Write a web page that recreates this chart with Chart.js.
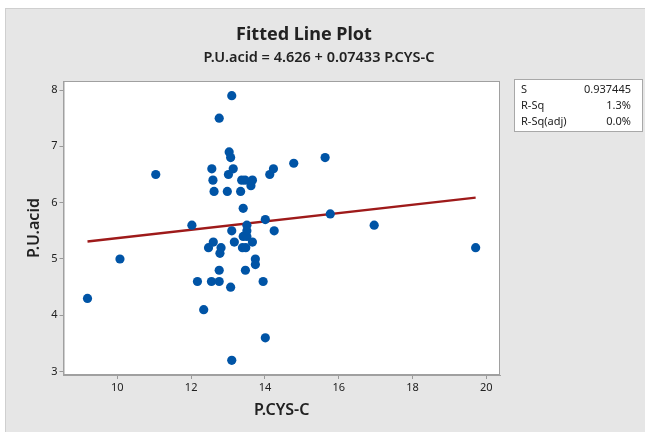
<!DOCTYPE html>
<html><head><meta charset="utf-8">
<title>Fitted Line Plot</title>
<script src="https://cdn.jsdelivr.net/npm/chart.js"></script>
<style>
  html, body { margin: 0; padding: 0; background: #fff; }
  #wrap { width: 645px; height: 432px; }
</style></head>
<body>
<div id="wrap"><canvas id="grafico" width="645" height="432"></canvas></div>
<script>
// --- DADOS ---
const pcysc = [9.19, 10.07, 11.04, 12.02, 12.17, 12.34, 12.47, 12.55, 12.56, 12.59,
  12.60, 12.62, 12.76, 12.76, 12.76, 12.78, 12.81, 12.98, 13.01, 13.03,
  13.07, 13.07, 13.10, 13.10, 13.10, 13.14, 13.17, 13.34, 13.37, 13.46,
  13.41, 13.41, 13.51, 13.51, 13.51, 13.39, 13.48, 13.47, 13.62, 13.66,
  13.66, 13.74, 13.74, 13.95, 14.01, 14.01, 14.13, 14.23, 14.25, 14.78,
  15.63, 15.77, 16.96, 19.71];
const puacid = [4.3, 5.0, 6.5, 5.6, 4.6, 4.1, 5.2, 4.6, 6.6, 6.4,
  5.3, 6.2, 4.6, 4.8, 7.5, 5.1, 5.2, 6.2, 6.5, 6.9,
  6.8, 4.5, 5.5, 7.9, 3.2, 6.6, 5.3, 6.2, 6.4, 6.4,
  5.9, 5.4, 5.4, 5.5, 5.6, 5.2, 5.2, 4.8, 6.3, 6.4,
  5.3, 5.0, 4.9, 4.6, 5.7, 3.6, 6.5, 6.6, 5.5, 6.7,
  6.8, 5.8, 5.6, 5.2];
// linha ajustada (extremos)
const fitX = [9.19, 19.71];
const fitY = [5.31, 6.09];
const xTicks = [10, 12, 14, 16, 18, 20];
const yTicks = [3, 4, 5, 6, 7, 8];
const stats = [['S', '0.937445'], ['R-Sq', '1.3%'], ['R-Sq(adj)', '0.0%']];

const FONT = "'Noto Sans', 'Open Sans', sans-serif";

// fundo, títulos e caixa de estatísticas
const moldura = {
  id: 'moldura',
  beforeDraw(chart) {
    const ctx = chart.ctx, a = chart.chartArea;
    ctx.save();
    ctx.fillStyle = '#fff';
    ctx.fillRect(0, 0, 645, 432);
    ctx.fillStyle = '#e6e6e6';
    ctx.fillRect(5, 8, 640, 424);
    ctx.strokeStyle = '#cfcfcf';
    ctx.lineWidth = 1;
    ctx.strokeRect(5.5, 8.5, 640, 424);
    ctx.fillStyle = '#fff';
    ctx.fillRect(a.left, a.top, a.right - a.left, a.bottom - a.top);

    ctx.fillStyle = '#222';
    ctx.textAlign = 'center';
    ctx.textBaseline = 'middle';
    ctx.font = 'bold 18px ' + FONT;
    ctx.fillText('Fitted Line Plot', 304, 35);
    ctx.font = '600 14.5px ' + FONT;
    ctx.fillText('P.U.acid = 4.626 + 0.07433 P.CYS-C', 319, 58);

    // caixa S / R-Sq
    ctx.fillStyle = '#fff';
    ctx.fillRect(514, 79, 128, 52);
    ctx.strokeStyle = '#a8a8a8';
    ctx.strokeRect(514.5, 79.5, 128, 52);
    ctx.fillStyle = '#222';
    ctx.font = '11px ' + FONT;
    stats.forEach((s, i) => {
      const y = 90 + i * 16;
      ctx.textAlign = 'left';
      ctx.fillText(s[0], 521, y);
      ctx.textAlign = 'right';
      ctx.fillText(s[1], 631, y);
    });
    ctx.restore();
  },
  afterDatasetsDraw(chart) {
    const ctx = chart.ctx, a = chart.chartArea;
    ctx.save();
    ctx.strokeStyle = '#a0a0a0';
    ctx.lineWidth = 1;
    ctx.strokeRect(a.left + 0.5, a.top + 0.5, a.right - a.left - 1, a.bottom - a.top - 1);
    ctx.restore();
  }
};

const ctx = document.getElementById('grafico').getContext('2d');
const chart = new Chart(ctx, {
  type: 'scatter',
  data: {
    datasets: [
      {
        label: 'dados',
        data: pcysc.map((x, i) => ({ x: x, y: puacid[i] })),
        backgroundColor: '#0054a6',
        borderWidth: 0,
        pointRadius: 4.6,
        order: 1
      },
      {
        label: 'ajuste',
        type: 'line',
        data: fitX.map((x, i) => ({ x: x, y: fitY[i] })),
        borderColor: '#9e1a1a',
        borderWidth: 2.4,
        pointRadius: 0,
        fill: false,
        order: 2
      }
    ]
  },
  options: {
    responsive: false,
    animation: false,
    events: [],
    layout: { padding: { top: 81, right: 145, left: 0, bottom: 0 } },
    plugins: { legend: { display: false }, tooltip: { enabled: false } },
    scales: {
      x: {
        type: 'linear',
        min: 8.54, max: 20.37,
        afterBuildTicks: s => { s.ticks = xTicks.map(v => ({ value: v })); },
        afterFit: s => { s.height = 57; },
        grid: { drawOnChartArea: false, drawTicks: true, tickLength: 4, color: '#999' },
        border: { display: true, color: '#a0a0a0' },
        ticks: { color: '#222', padding: 2, font: { family: FONT, size: 11 } },
        title: { display: true, text: 'P.CYS-C', color: '#222', padding: { top: 0, bottom: 12 },
          font: { family: FONT, size: 16, weight: '600' } }
      },
      y: {
        type: 'linear',
        min: 2.94, max: 8.16,
        afterBuildTicks: s => { s.ticks = yTicks.map(v => ({ value: v })); },
        afterFit: s => { s.width = 63.5; },
        grid: { drawOnChartArea: false, drawTicks: true, tickLength: 4, color: '#999' },
        border: { display: true, color: '#a0a0a0' },
        ticks: { color: '#222', padding: 2, font: { family: FONT, size: 11 } },
        title: { display: true, text: 'P.U.acid', color: '#222', padding: { top: 25, bottom: 0 },
          font: { family: FONT, size: 16, weight: '600' } }
      }
    }
  },
  plugins: [moldura]
});
</script>
</body></html>
